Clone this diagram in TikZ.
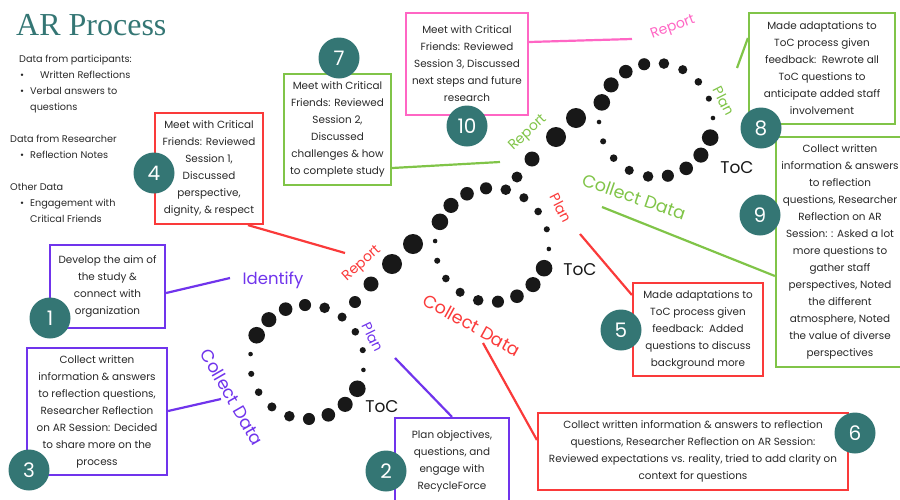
\documentclass[tikz,border=0pt]{standalone}
\usepackage{fontspec}
\setmainfont{Poppins}
\newfontfamily\titlefont{Liberation Serif}
\usepackage{tikz}

\definecolor{arteal}{RGB}{52,118,116}
\definecolor{arpurple}{RGB}{112,52,236}
\definecolor{arred}{RGB}{250,58,58}
\definecolor{argreen}{RGB}{128,196,72}
\definecolor{arpink}{RGB}{255,102,196}
\definecolor{textgray}{RGB}{40,40,40}
\definecolor{dotblack}{RGB}{24,24,24}

\begin{document}
\begin{tikzpicture}[
        x=1pt, y=-1pt,
        note/.style={draw=#1,line width=2.2pt,fill=white,align=center,inner sep=0pt,text=textgray,font=\fontsize{10.4}{17}\selectfont},
        stepno/.style={circle,fill=arteal,text=white,minimum size=41pt,inner sep=0pt,font=\fontsize{20}{20}\selectfont},
        phase/.style={text=#1,inner sep=0pt,font=\fontsize{14}{14}\selectfont},
        bigphase/.style={text=#1,inner sep=0pt,font=\fontsize{17.5}{17.5}\selectfont},
        tocmark/.style={text=dotblack,inner sep=0pt,font=\fontsize{17}{17}\selectfont},
        link/.style={draw=#1,line width=2.2pt}
    ]
        \useasboundingbox (0,0) rectangle (900,499);

        % title and data list
        \node [anchor=base west,inner sep=0pt,text=arteal,font=\titlefont\fontsize{32}{32}\selectfont] (title) at (16,35) {AR Process};
        \node [anchor=north west,inner sep=0pt,align=left,text=textgray,font=\fontsize{9.7}{16}\selectfont] (datalist) at (10,55) {%
            \hspace*{9pt}Data from participants:\\
            \hspace*{10pt}\makebox[20pt][l]{\textbullet}Written Reflections\\
            \hspace*{10pt}\makebox[10pt][l]{\textbullet}Verbal answers to\\
            \hspace*{20pt}questions\\[16pt]
            Data from Researcher\\
            \hspace*{10pt}\makebox[10pt][l]{\textbullet}Reflection Notes\\[16pt]
            Other Data\\
            \hspace*{10pt}\makebox[10pt][l]{\textbullet}Engagement with\\
            \hspace*{20pt}Critical Friends};

        % dotted loops
        \foreach \cx/\cy/\start in {307/362/152, 492/245/156, 656/120/162}
            \foreach \k in {0,...,17}
                \fill [dotblack] ({\cx+57*cos(\start-20*\k)},{\cy-57*sin(\start-20*\k)}) circle ({8.3-0.75*mod(\k,9)});
        \foreach \x/\y/\r in {355/302/6, 371/284/7.5, 392/264/10, 413/244/10, 517/177/5.5, 532/159/7.5, 556/137/10, 576/118/10}
            \fill [dotblack] (\x,\y) circle (\r);

        \node [tocmark] (toc1) at (382,407) {ToC};
        \node [tocmark] (toc2) at (580,270) {ToC};
        \node [tocmark] (toc3) at (737,168) {ToC};

        % phase labels
        \node [phase=arpurple,font=\fontsize{16.5}{16.5}\selectfont] (identify) at (273,280) {Identify};
        \node [bigphase=arpurple,rotate=-60] (collect1) at (232,397) {Collect Data};
        \node [phase=arpurple,rotate=-64] (plan1) at (373,337) {Plan};
        \node [phase=arred,rotate=42] (report1) at (362,264) {Report};
        \node [phase=arred,rotate=-63] (plan2) at (561,208) {Plan};
        \node [bigphase=arred,rotate=-29] (collect2) at (472,325) {Collect Data};
        \node [phase=argreen,rotate=43] (report2) at (528,133) {Report};
        \node [bigphase=argreen,rotate=-19] (collect3) at (634,197) {Collect Data};
        \node [phase=argreen,rotate=-63] (plan3) at (724,101) {Plan};
        \node [phase=arpink,rotate=20] (report3) at (673,28) {Report};

        % note boxes
        \node [note=arpurple,minimum width=115pt,minimum height=83pt] (box1) at (107.5,286.5) {Develop the aim of\\the study \&\\connect with\\organization};
        \node [note=arpurple,minimum width=114pt,minimum height=86pt] (box2) at (452,461) {Plan objectives,\\questions, and\\engage with\\RecycleForce};
        \node [note=arpurple,minimum width=140pt,minimum height=127pt] (box3) at (97,411.5) {Collect written\\information \& answers\\to reflection questions,\\Researcher Reflection\\on AR Session: Decided\\to share more on the\\process};
        \node [note=arred,minimum width=108pt,minimum height=111pt] (box4) at (209,168.5) {Meet with Critical\\Friends: Reviewed\\Session 1,\\Discussed\\perspective,\\dignity, \& respect};
        \node [note=arred,minimum width=130pt,minimum height=93pt] (box5) at (698,329.5) {Made adaptations to\\ToC process given\\feedback:\ \ Added\\questions to discuss\\background more};
        \node [note=arred,minimum width=310pt,minimum height=77pt] (box6) at (693,451.5) {Collect written information \& answers to reflection\\questions, Researcher Reflection on AR Session:\\Reviewed expectations vs. reality, tried to add clarity on\\context for questions};
        \node [note=argreen,minimum width=107pt,minimum height=111pt] (box7) at (337.5,129.5) {Meet with Critical\\Friends: Reviewed\\Session 2,\\Discussed\\challenges \& how\\to complete study};
        \node [note=argreen,minimum width=146pt,minimum height=111pt] (box8) at (822,68.5) {Made adaptations to\\ToC process given\\feedback:\ \ Rewrote all\\ToC questions to\\anticipate added staff\\involvement};
        \node [note=argreen,minimum width=128pt,minimum height=230pt] (box9) at (840,252) {Collect written\\information \& answers\\to reflection\\questions, Researcher\\Reflection on AR\\Session: : Asked a lot\\more questions to\\gather staff\\perspectives, Noted\\the different\\atmosphere, Noted\\the value of diverse\\perspectives};
        \node [note=arpink,minimum width=122pt,minimum height=102pt] (box10) at (467,64) {Meet with Critical\\Friends: Reviewed\\Session 3, Discussed\\next steps and future\\research};

        % connector ends
        \coordinate (end1) at (230,278);
        \coordinate (end2) at (395,358);
        \coordinate (end3) at (221,399);
        \coordinate (end4) at (345,253);
        \coordinate (end5) at (580,234);
        \coordinate (end6) at (483,343);
        \coordinate (end7) at (500,162);
        \coordinate (end8) at (737,68);
        \coordinate (end9) at (602,207);
        \coordinate (end10) at (632,39);

        \draw [link=arpurple] (box1.east |- 0,293) -- (end1);
        \draw [link=arpurple] (box2.north) -- (end2);
        \draw [link=arpurple] (box3.east |- 0,411) -- (end3);
        \draw [link=arred] (box4.south -| 248,0) -- (end4);
        \draw [link=arred] (box5.west |- 0,295) -- (end5);
        \draw [link=arred] (box6.west |- 0,440) -- (end6);
        \draw [link=argreen] (box7.east |- 0,168) -- (end7);
        \draw [link=argreen] (box8.west |- 0,38) -- (end8);
        \draw [link=argreen] (box9.west |- 0,276) -- (end9);
        \draw [link=arpink] (box10.east |- 0,42) -- (end10);

        % step numbers
        \node [stepno] (num1) at (50,318) {1};
        \node [stepno] (num2) at (386,471) {2};
        \node [stepno] (num3) at (29,470) {3};
        \node [stepno] (num4) at (154,173) {4};
        \node [stepno] (num5) at (621,330) {5};
        \node [stepno] (num6) at (855,433) {6};
        \node [stepno] (num7) at (339,58) {7};
        \node [stepno] (num8) at (761,128) {8};
        \node [stepno] (num9) at (760,215) {9};
        \node [stepno] (num10) at (467,126) {10};
    \end{tikzpicture}
\end{document}
